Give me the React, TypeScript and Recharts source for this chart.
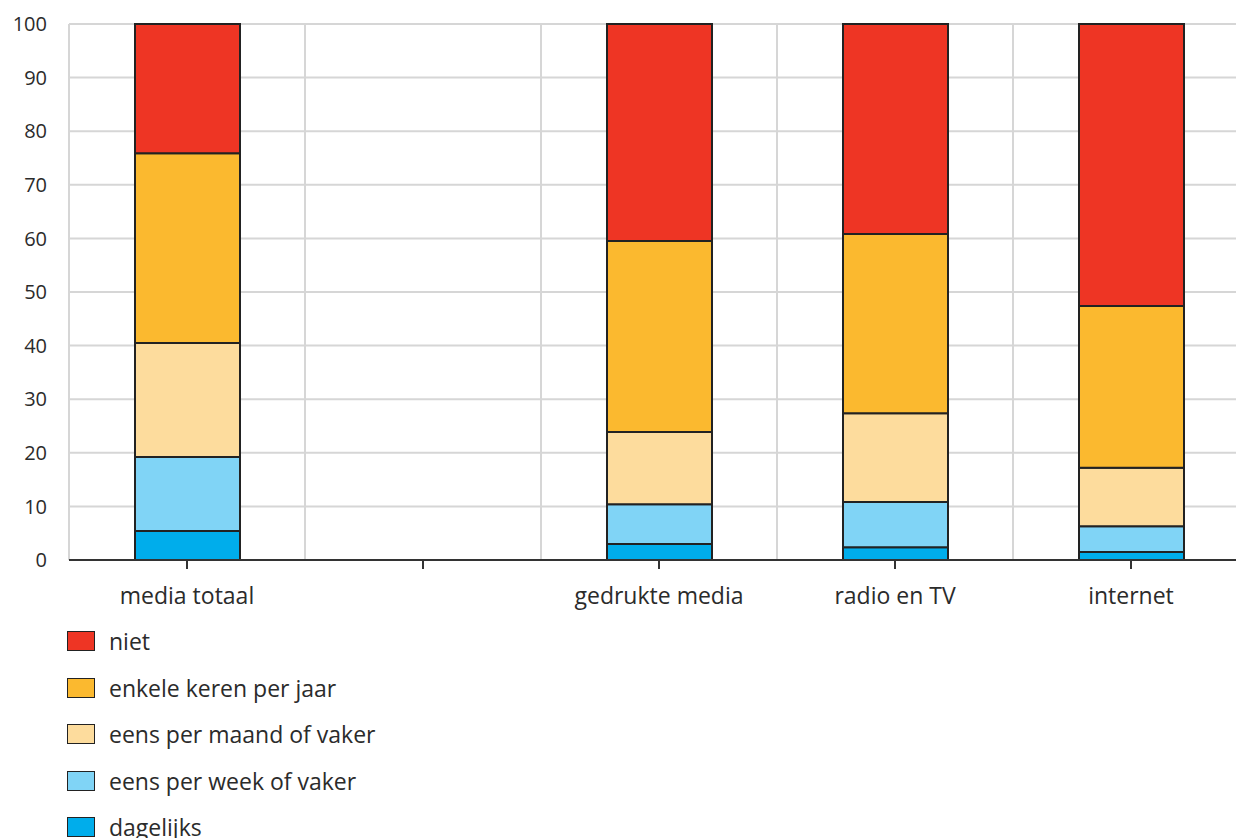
import { BarChart, Bar, XAxis, YAxis, CartesianGrid } from "recharts";

const categories = ["media totaal", "", "gedrukte media", "radio en TV", "internet"];
const dagelijks = [5.4, null, 3.0, 2.4, 1.5];
const week = [13.8, null, 7.4, 8.4, 4.8];
const maand = [21.3, null, 13.5, 16.6, 10.9];
const jaar = [35.4, null, 35.6, 33.4, 30.2];
const niet = [24.1, null, 40.5, 39.2, 52.6];
const yTicks = [0, 10, 20, 30, 40, 50, 60, 70, 80, 90, 100];

const series = [
  { key: "dagelijks", label: "dagelijks", color: "#00adeb", values: dagelijks },
  { key: "week", label: "eens per week of vaker", color: "#80d4f6", values: week },
  { key: "maand", label: "eens per maand of vaker", color: "#fddc9d", values: maand },
  { key: "jaar", label: "enkele keren per jaar", color: "#fbb92f", values: jaar },
  { key: "niet", label: "niet", color: "#ee3524", values: niet },
];

const chartData = categories.map((name, i) => {
  const row: Record<string, string | number | null> = { name };
  series.forEach((s) => {
    row[s.key] = s.values[i];
  });
  return row;
});

const FONT = "'Open Sans', 'Noto Sans', sans-serif";
const TEXT = "#2b2b2b";

export default function App() {
  return (
    <div
      style={{
        position: "fixed",
        top: 0,
        left: 0,
        width: 1236,
        height: 838,
        overflow: "hidden",
        background: "#fff",
        fontFamily: FONT,
      }}
    >
      <BarChart
        width={1260}
        height={620}
        data={chartData}
        margin={{ top: 24, right: 11, bottom: 0, left: 0 }}
        barSize={105}
      >
        <CartesianGrid
          stroke="#d6d6d6"
          strokeWidth={2}
          verticalCoordinatesGenerator={({ offset }: any) =>
            categories.map((_, i) => offset.left + (i * offset.width) / categories.length)
          }
        />
        <XAxis
          dataKey="name"
          height={60}
          axisLine={{ stroke: "#333", strokeWidth: 2 }}
          tickLine={{ stroke: "#333", strokeWidth: 2 }}
          tickSize={9}
          tickMargin={19}
          interval={0}
          tick={{ fill: TEXT, fontSize: 23, fontFamily: FONT }}
        />
        <YAxis
          width={69}
          domain={[0, 100]}
          ticks={yTicks}
          axisLine={false}
          tickLine={false}
          tickSize={0}
          tickMargin={22}
          tick={{ fill: TEXT, fontSize: 20, fontFamily: FONT }}
        />
        {series.map((s) => (
          <Bar
            key={s.key}
            dataKey={s.key}
            stackId="a"
            fill={s.color}
            stroke="#222"
            strokeWidth={2}
            isAnimationActive={false}
          />
        ))}
      </BarChart>
      <div style={{ position: "absolute", left: 67, top: 618 }}>
        {[...series].reverse().map((s) => (
          <div
            key={s.key}
            style={{ display: "flex", alignItems: "center", height: 46.5 }}
          >
            <span
              style={{
                display: "inline-block",
                width: 26,
                height: 18,
                background: s.color,
                border: "1.5px solid #222",
                marginRight: 14,
              }}
            />
            <span style={{ fontSize: 23, color: TEXT }}>{s.label}</span>
          </div>
        ))}
      </div>
    </div>
  );
}
